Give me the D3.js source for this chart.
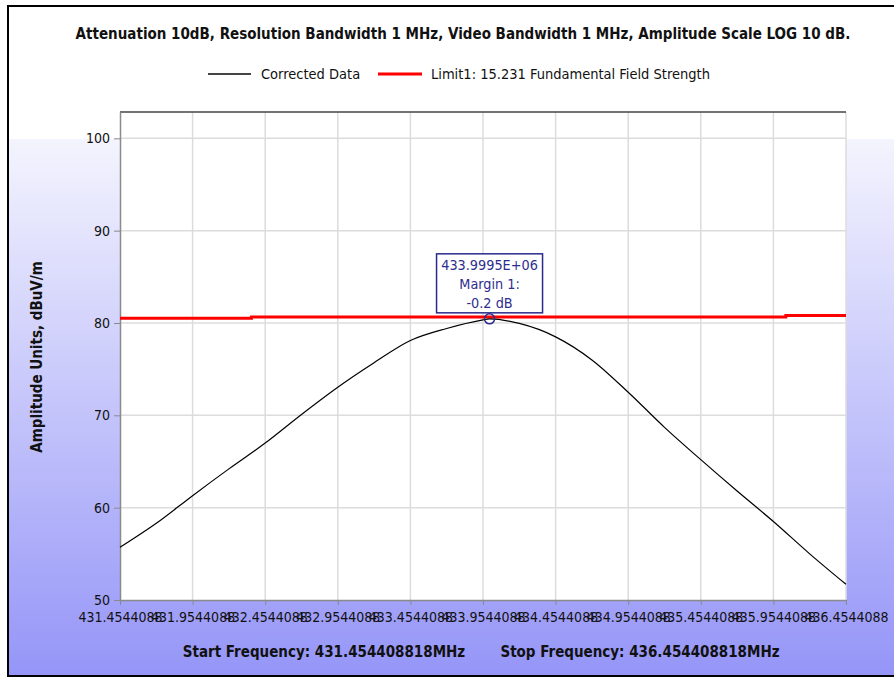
<!DOCTYPE html>
<html>
<head>
<meta charset="utf-8">
<script src="https://cdn.jsdelivr.net/npm/d3@7.9.0/dist/d3.min.js"></script>
<style>
  html, body { margin: 0; padding: 0; background: #fff; }
  svg { display: block; }
  text { font-family: "DejaVu Sans Condensed", "DejaVu Sans", sans-serif; fill: #111; }
</style>
</head>
<body>
<div id="chart"></div>
<script>
// ===============================
// DATA
// ===============================
const titleText = "Attenuation 10dB, Resolution Bandwidth 1 MHz, Video Bandwidth 1 MHz, Amplitude Scale LOG 10 dB.";
const seriesNames = ["Corrected Data", "Limit1: 15.231 Fundamental Field Strength"];

// corrected data trace (MHz, dBuV/m)
const traceFreq = [431.454408818, 431.704408818, 431.954408818, 432.204408818, 432.454408818,
  432.704408818, 432.954408818, 433.204408818, 433.454408818, 433.704408818, 433.954408818,
  433.9995, 434.204408818, 434.454408818, 434.704408818, 434.954408818, 435.204408818,
  435.454408818, 435.704408818, 435.954408818, 436.204408818, 436.454408818];
const traceLevel = [55.7, 58.3, 61.3, 64.2, 67.0, 70.1, 73.05, 75.7, 78.1, 79.4, 80.33,
  80.45, 79.95, 78.5, 76.0, 72.5, 68.7, 65.2, 61.8, 58.5, 55.0, 51.7];

// limit line steps
const limitFreq = [431.454408818, 432.36, 436.04, 436.454408818];
const limitLevel = [80.5, 80.65, 80.82, 80.82];

// marker
const markerFreq = 433.9995;
const markerLevel = 80.45;
const markerLines = ["433.9995E+06", "Margin 1:", "-0.2 dB"];

// axes
const yTicks = [50, 60, 70, 80, 90, 100];
const yDomain = [50, 102.85];
const xTicks = [431.454408818, 431.954408818, 432.454408818, 432.954408818, 433.454408818,
  433.954408818, 434.454408818, 434.954408818, 435.454408818, 435.954408818, 436.454408818];
const yLabel = "Amplitude Units, dBuV/m";
const startText = "Start Frequency: 431.454408818MHz";
const stopText = "Stop Frequency: 436.454408818MHz";

// ===============================
// LAYOUT
// ===============================
const width = 894, height = 679;
const plot = { left: 120, right: 846, top: 112, bottom: 600 };

const svg = d3.select("#chart").append("svg")
  .attr("width", width)
  .attr("height", height);

// background gradient
const defs = svg.append("defs");
const grad = defs.append("linearGradient")
  .attr("id", "bg")
  .attr("gradientUnits", "userSpaceOnUse")
  .attr("x1", 0).attr("x2", 0).attr("y1", 139).attr("y2", 676);
grad.append("stop").attr("offset", 0).attr("stop-color", "#f4f4fe");
grad.append("stop").attr("offset", 1).attr("stop-color", "#9595f8");

svg.append("rect")
  .attr("x", 8).attr("y", 139)
  .attr("width", width - 8).attr("height", 676 - 139)
  .attr("fill", "url(#bg)");

// outer frame
svg.append("path")
  .attr("d", `M${width + 2},6 H8 V676 H${width + 2}`)
  .attr("fill", "none")
  .attr("stroke", "#000")
  .attr("stroke-width", 2);

// scales
const x = d3.scaleLinear()
  .domain([xTicks[0], xTicks[xTicks.length - 1]])
  .range([plot.left, plot.right]);
const y = d3.scaleLinear()
  .domain(yDomain)
  .range([plot.bottom, plot.top]);

// plot area
svg.append("rect")
  .attr("x", plot.left).attr("y", plot.top)
  .attr("width", plot.right - plot.left)
  .attr("height", plot.bottom - plot.top)
  .attr("fill", "#fff");

// grid
svg.append("g")
  .selectAll("line")
  .data(xTicks.slice(1))
  .join("line")
  .attr("x1", d => x(d)).attr("x2", d => x(d))
  .attr("y1", plot.top).attr("y2", plot.bottom)
  .attr("stroke", "#dcdcdc").attr("stroke-width", 1.5);

svg.append("g")
  .selectAll("line")
  .data(yTicks.slice(1))
  .join("line")
  .attr("x1", plot.left).attr("x2", plot.right)
  .attr("y1", d => y(d)).attr("y2", d => y(d))
  .attr("stroke", "#dcdcdc").attr("stroke-width", 1.5);

// top border of plot
svg.append("line")
  .attr("x1", plot.left).attr("x2", plot.right)
  .attr("y1", plot.top).attr("y2", plot.top)
  .attr("stroke", "#444").attr("stroke-width", 1.5);

// axes
const yAxis = svg.append("g")
  .attr("transform", `translate(${plot.left},0)`)
  .call(d3.axisLeft(y).tickValues(yTicks).tickSize(6).tickPadding(4).tickSizeOuter(0));
const xAxis = svg.append("g")
  .attr("transform", `translate(0,${plot.bottom})`)
  .call(d3.axisBottom(x).tickValues(xTicks).tickFormat(d3.format(".7f")).tickSize(5).tickPadding(7).tickSizeOuter(0));

[yAxis, xAxis].forEach(g => {
  g.select(".domain").attr("stroke", "#8a8a8a").attr("stroke-width", 1.5);
  g.selectAll(".tick line").attr("stroke", "#8a8a8a");
  g.selectAll("text")
    .attr("font-family", "'DejaVu Sans Condensed', 'DejaVu Sans', sans-serif")
    .attr("font-size", 14)
    .attr("fill", "#111");
});

// limit line
const limitPts = limitFreq.map((f, i) => [f, limitLevel[i]]);
svg.append("path")
  .datum(limitPts)
  .attr("fill", "none")
  .attr("stroke", "#ff0000")
  .attr("stroke-width", 3)
  .attr("d", d3.line().x(d => x(d[0])).y(d => y(d[1])).curve(d3.curveStepAfter));

// corrected data
const tracePts = traceFreq.map((f, i) => [f, traceLevel[i]]);
svg.append("path")
  .datum(tracePts)
  .attr("fill", "none")
  .attr("stroke", "#000")
  .attr("stroke-width", 1.2)
  .attr("d", d3.line().x(d => x(d[0])).y(d => y(d[1])).curve(d3.curveMonotoneX));

// marker + annotation
const mx = x(markerFreq), my = y(markerLevel);
svg.append("circle")
  .attr("cx", mx).attr("cy", my).attr("r", 5)
  .attr("fill", "none")
  .attr("stroke", "#2a2a8c").attr("stroke-width", 1.5);

const boxW = 106, boxH = 59;
svg.append("rect")
  .attr("x", mx - boxW / 2).attr("y", my - 6 - boxH)
  .attr("width", boxW).attr("height", boxH)
  .attr("fill", "#fff")
  .attr("stroke", "#2a2a8c").attr("stroke-width", 1.5);
svg.append("g")
  .selectAll("text")
  .data(markerLines)
  .join("text")
  .attr("x", mx)
  .attr("y", (d, i) => my - 6 - boxH + 16 + i * 19)
  .attr("text-anchor", "middle")
  .attr("font-family", "'Liberation Sans', Arial, sans-serif")
  .attr("font-size", 14.3)
  .style("fill", "#2e2e8e")
  .text(d => d);

// title
svg.append("text")
  .attr("x", 463).attr("y", 38.5)
  .attr("text-anchor", "middle")
  .attr("font-size", 15)
  .attr("font-weight", "bold")
  .text(titleText);

// legend
const legend = svg.append("g");
legend.append("line")
  .attr("x1", 208).attr("x2", 251).attr("y1", 74).attr("y2", 74)
  .attr("stroke", "#444").attr("stroke-width", 2);
legend.append("text")
  .attr("x", 261).attr("y", 79)
  .attr("font-size", 14.5)
  .text(seriesNames[0]);
legend.append("line")
  .attr("x1", 378).attr("x2", 422).attr("y1", 74).attr("y2", 74)
  .attr("stroke", "#ff0000").attr("stroke-width", 3);
legend.append("text")
  .attr("x", 431).attr("y", 79)
  .attr("font-size", 14.5)
  .text(seriesNames[1]);

// y label
svg.append("text")
  .attr("transform", `translate(42,357) rotate(-90)`)
  .attr("text-anchor", "middle")
  .attr("font-size", 15)
  .attr("font-weight", "bold")
  .text(yLabel);

// start / stop
svg.append("text")
  .attr("x", 324).attr("y", 657)
  .attr("text-anchor", "middle")
  .attr("font-size", 15)
  .attr("font-weight", "bold")
  .text(startText);
svg.append("text")
  .attr("x", 640).attr("y", 657)
  .attr("text-anchor", "middle")
  .attr("font-size", 15)
  .attr("font-weight", "bold")
  .text(stopText);
</script>
</body>
</html>
